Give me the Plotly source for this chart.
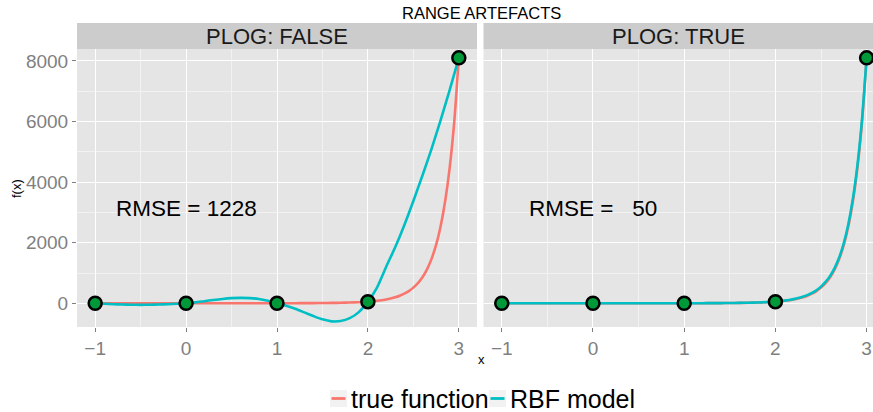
import plotly.graph_objects as go

W, H = 873, 412

# ---------------- data ----------------
design_x = [-1, 0, 1, 2, 3]
design_y = [2.7, 1.0, 2.7, 54.6, 8103]

true_x = [-1.0, -0.9, -0.8, -0.7, -0.6, -0.5, -0.4, -0.3, -0.2, -0.1,
          0.0, 0.1, 0.2, 0.3, 0.4, 0.5, 0.6, 0.7, 0.8, 0.9,
          1.0, 1.1, 1.2, 1.3, 1.4, 1.5, 1.6, 1.7, 1.8, 1.9,
          2.0, 2.05, 2.1, 2.15, 2.2, 2.25, 2.3, 2.35, 2.4, 2.45,
          2.5, 2.55, 2.6, 2.65, 2.7, 2.75, 2.8, 2.85, 2.9, 2.95, 3.0]
true_y = [2.7, 2.2, 1.9, 1.6, 1.4, 1.3, 1.2, 1.1, 1.0, 1.0,
          1.0, 1.0, 1.0, 1.1, 1.2, 1.3, 1.4, 1.6, 1.9, 2.2,
          2.7, 3.4, 4.2, 5.4, 7.1, 9.5, 13, 18, 25.5, 37,
          55, 67, 82, 101, 127, 158, 198, 251, 317, 404,
          518, 667, 863, 1123, 1468, 1929, 2546, 3376, 4491, 5999, 8103]

rbf_false_x = [-1.0, -0.9, -0.8, -0.7, -0.6, -0.5, -0.4, -0.3, -0.2, -0.1,
               0.0, 0.1, 0.2, 0.3, 0.4, 0.5, 0.6, 0.7, 0.8, 0.9,
               1.0, 1.1, 1.2, 1.3, 1.4, 1.5, 1.6, 1.7, 1.8, 1.9,
               2.0, 2.1, 2.2, 2.3, 2.4, 2.5, 2.6, 2.7, 2.8, 2.9, 3.0]
rbf_false_y = [2.7, -16, -30, -40, -47, -50, -47, -40, -29, -15,
               1, 30, 70, 110, 145, 170, 180, 172, 145, 85,
               3, -80, -180, -300, -420, -530, -595, -585, -490, -290,
               55, 520, 1200, 1850, 2580, 3380, 4220, 5100, 6050, 7050, 8103]

rbf_true_x = true_x
rbf_true_y = [2.7, 2.2, 1.9, 1.6, 1.4, 1.3, 1.2, 1.1, 1.0, 1.0,
              1.0, 1.0, 1.0, 1.1, 1.2, 1.3, 1.4, 1.6, 1.9, 2.2,
              2.7, 3.5, 4.4, 5.7, 7.5, 10, 14, 19, 27, 39,
              55, 70, 88, 110, 138, 172, 215, 270, 340, 432,
              550, 705, 905, 1170, 1520, 1990, 2620, 3460, 4580, 6080, 8103]

panel_titles = ["PLOG: FALSE", "PLOG: TRUE"]
rmse_labels = ["RMSE = 1228", "RMSE = \u00a0\u00a050"]
legend_labels = ["true function", "RBF model"]
y_ticks = [0, 2000, 4000, 6000, 8000]
x_ticks = [-1, 0, 1, 2, 3]

RED = "#F8766D"
CYAN = "#00BFC4"
PT = "#00993A"
FONT = "Liberation Sans, Arial, sans-serif"

def px(x):
    return x / W

def py(y):
    return 1 - y / H

fig = go.Figure()

panels = [("x", "y", rbf_false_x, rbf_false_y), ("x2", "y2", rbf_true_x, rbf_true_y)]
for xa, ya, rx, ry in panels:
    fig.add_trace(go.Scatter(x=true_x, y=true_y, mode="lines", xaxis=xa, yaxis=ya,
                             line=dict(color=RED, width=2.6, shape="spline", smoothing=0.6),
                             name="true function", showlegend=False))
    fig.add_trace(go.Scatter(x=rx, y=ry, mode="lines", xaxis=xa, yaxis=ya,
                             line=dict(color=CYAN, width=2.6, shape="spline", smoothing=0.6),
                             name="RBF model", showlegend=False))
    fig.add_trace(go.Scatter(x=design_x, y=design_y, mode="markers", xaxis=xa, yaxis=ya,
                             marker=dict(color=PT, size=13, line=dict(color="black", width=2.5)),
                             showlegend=False, cliponaxis=False))

ydom = [py(327), py(49)]
xdom1 = [px(77), px(477)]
xdom2 = [px(483.5), 1.0]
yrange = [-782, 8396]

common_x = dict(tickmode="array", tickvals=x_ticks, ticktext=["\u22121", "0", "1", "2", "3"],
                showgrid=True, gridcolor="white", gridwidth=1.2, zeroline=False,
                ticks="outside", ticklen=4, tickcolor="#7f7f7f", tickwidth=1,
                tickfont=dict(family=FONT, size=19, color="#7f7f7f"),
                minor=dict(tickmode="array", tickvals=[-0.5, 0.5, 1.5, 2.5], showgrid=True,
                           gridcolor="#f2f2f2", gridwidth=0.6, ticks=""),
                showline=False)

fig.update_layout(
    width=W, height=H,
    margin=dict(l=0, r=0, t=0, b=0),
    paper_bgcolor="white", plot_bgcolor="#e5e5e5",
    showlegend=False,
    xaxis=dict(domain=xdom1, range=[-1.2, 3.2], anchor="y", **common_x),
    xaxis2=dict(domain=xdom2, range=[-1.2, 3.07], anchor="y2", **common_x),
    yaxis=dict(domain=ydom, range=yrange, anchor="x",
               tickmode="array", tickvals=y_ticks, ticktext=[str(v) for v in y_ticks],
               showgrid=True, gridcolor="white", gridwidth=1.2, zeroline=False,
               ticks="outside", ticklen=4, tickcolor="#7f7f7f", tickwidth=1,
               tickfont=dict(family=FONT, size=19, color="#7f7f7f"),
               minor=dict(tickmode="array", tickvals=[1000, 3000, 5000, 7000], showgrid=True,
                          gridcolor="#f2f2f2", gridwidth=0.6, ticks="")),
    yaxis2=dict(domain=ydom, range=yrange, anchor="x2", matches="y",
                tickmode="array", tickvals=y_ticks, showticklabels=False,
                showgrid=True, gridcolor="white", gridwidth=1.2, zeroline=False, ticks="",
                minor=dict(tickmode="array", tickvals=[1000, 3000, 5000, 7000], showgrid=True,
                           gridcolor="#f2f2f2", gridwidth=0.6, ticks="")),
)

shapes = []
annotations = []
# strips
for (x0, x1), title in zip([xdom1, xdom2], panel_titles):
    shapes.append(dict(type="rect", xref="paper", yref="paper", x0=x0, x1=x1,
                       y0=py(49), y1=py(23), fillcolor="#cccccc", line=dict(width=0), layer="below"))
    annotations.append(dict(xref="paper", yref="paper", x=(x0 + x1) / 2, y=py(36.5),
                            text=title, showarrow=False, xanchor="center", yanchor="middle",
                            font=dict(family=FONT, size=22, color="#1a1a1a")))
# RMSE labels
for (xr, yr), lab in zip([("x", "y"), ("x2", "y2")], rmse_labels):
    annotations.append(dict(xref=xr, yref=yr, x=0, y=3120, text=lab, showarrow=False,
                            xanchor="center", yanchor="middle",
                            font=dict(family=FONT, size=22.5, color="black")))
# title and axis titles
annotations.append(dict(xref="paper", yref="paper", x=px(481), y=py(13), text="RANGE ARTEFACTS",
                        showarrow=False, xanchor="center", yanchor="middle",
                        font=dict(family=FONT, size=16.5, color="black")))
annotations.append(dict(xref="paper", yref="paper", x=px(16), y=py(189), text="f(x)", textangle=-90,
                        showarrow=False, xanchor="center", yanchor="middle",
                        font=dict(family=FONT, size=13, color="black")))
annotations.append(dict(xref="paper", yref="paper", x=px(481), y=py(359), text="x",
                        showarrow=False, xanchor="center", yanchor="middle",
                        font=dict(family=FONT, size=13, color="black")))
# legend (keys + labels)
key_x = [330, 489]
for kx, lab, col in zip(key_x, legend_labels, [RED, CYAN]):
    shapes.append(dict(type="rect", xref="paper", yref="paper", x0=px(kx), x1=px(kx + 17),
                       y0=py(407), y1=py(390), fillcolor="#f2f2f2", line=dict(width=0)))
    shapes.append(dict(type="line", xref="paper", yref="paper", x0=px(kx + 1.5), x1=px(kx + 15.5),
                       y0=py(398.5), y1=py(398.5), line=dict(color=col, width=2.8)))
    annotations.append(dict(xref="paper", yref="paper", x=px(kx + 19), y=py(399), text=lab,
                            showarrow=False, xanchor="left", yanchor="middle",
                            font=dict(family=FONT, size=25, color="black")))

fig.update_layout(shapes=shapes, annotations=annotations)
fig.write_html("out.html", config={"displayModeBar": False},
               post_script="document.body.style.margin='0';document.body.style.overflow='hidden';")
